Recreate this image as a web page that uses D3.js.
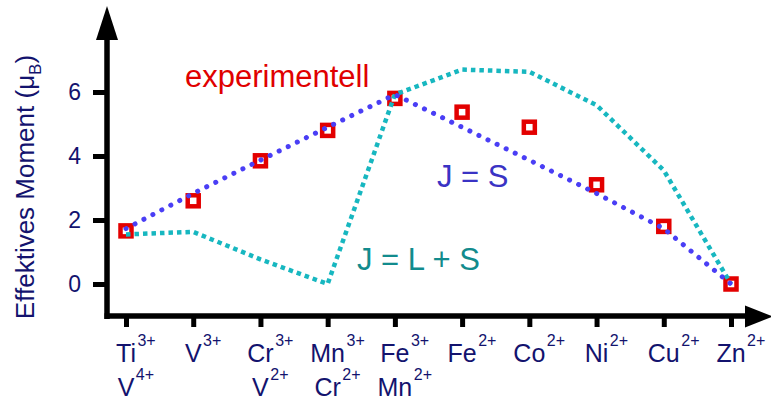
<!DOCTYPE html>
<html>
<head>
<meta charset="utf-8">
<script src="https://cdn.jsdelivr.net/npm/d3@7"></script>
<style>
  body { margin: 0; background: #fff; }
  text { font-family: "Liberation Sans", Arial, sans-serif; }
</style>
</head>
<body>
<div id="chart"></div>
<script>
// ions (main symbol + charge), two rows of labels
var ionTop = ["Ti", "V", "Cr", "Mn", "Fe", "Fe", "Co", "Ni", "Cu", "Zn"];
var chargeTop = ["3+", "3+", "3+", "3+", "3+", "2+", "2+", "2+", "2+", "2+"];
var ionBottom = ["V", "", "V", "Cr", "Mn", "", "", "", "", ""];
var chargeBottom = ["4+", "", "2+", "2+", "2+", "", "", "", "", ""];

// effective moments in Bohr magnetons
var experimental = [1.66, 2.6, 3.85, 4.8, 5.8, 5.37, 4.9, 3.1, 1.8, 0];
var onlySpin = [1.73, 2.83, 3.87, 4.9, 5.92, 4.9, 3.87, 2.83, 1.73, 0];   // J = S
var fullJ = [1.55, 1.63, 0.77, 0, 5.92, 6.7, 6.63, 5.59, 3.55, 0];         // J = L + S
var yTicks = [0, 2, 4, 6];

var width = 771, height = 403;
var navy = "#13136e";

var svg = d3.select("#chart").append("svg")
    .attr("width", width)
    .attr("height", height);

var x = d3.scaleLinear().domain([0, 9]).range([126, 731]);
var y = d3.scaleLinear().domain([-1, 6]).range([316, 92]);

// ticks via d3 axes (domain line replaced by arrows)
var yAxis = svg.append("g")
    .attr("transform", "translate(107,0)")
    .call(d3.axisLeft(y).tickValues(yTicks).tickFormat(d3.format("d")).tickSize(14).tickPadding(12));
yAxis.select(".domain").remove();
yAxis.selectAll(".tick line").attr("stroke", "#000").attr("stroke-width", 5);
yAxis.selectAll(".tick text")
    .attr("fill", navy)
    .style("font-size", "23px")
    .style("font-family", "'Liberation Sans', Arial, sans-serif");

var xAxis = svg.append("g")
    .attr("transform", "translate(0," + y(-1) + ")")
    .call(d3.axisBottom(x).tickValues(d3.range(10)).tickSize(11).tickFormat(""));
xAxis.select(".domain").remove();
xAxis.selectAll(".tick line").attr("stroke", "#000").attr("stroke-width", 5);

// axis lines with arrowheads
svg.append("line")
    .attr("x1", 107).attr("x2", 107)
    .attr("y1", y(-1) + 3).attr("y2", 38)
    .attr("stroke", "#000").attr("stroke-width", 5.5);
svg.append("path")
    .attr("d", "M96,40 L118,40 L107,6 Z")
    .attr("fill", "#000");
svg.append("line")
    .attr("x1", 104.5).attr("x2", 748)
    .attr("y1", y(-1)).attr("y2", y(-1))
    .attr("stroke", "#000").attr("stroke-width", 5.5);
svg.append("path")
    .attr("d", "M745,305.5 L745,327.5 L773,316.5 Z")
    .attr("fill", "#000");

// x labels: main symbol centred on tick, charge as superscript
function ionLabels(names, charges, baseline) {
  names.forEach(function (n, i) {
    if (!n) return;
    var t = svg.append("text")
        .attr("x", x(i))
        .attr("y", baseline)
        .attr("text-anchor", "middle")
        .attr("fill", navy)
        .style("font-size", "25px")
        .text(n);
    var w = t.node().getComputedTextLength();
    svg.append("text")
        .attr("x", x(i) + w / 2 + 1.5)
        .attr("y", baseline - 16)
        .attr("fill", navy)
        .style("font-size", "16px")
        .text(charges[i]);
  });
}
ionLabels(ionTop, chargeTop, 362);
ionLabels(ionBottom, chargeBottom, 396);

// y title
var title = svg.append("text")
    .attr("transform", "translate(33.5,187) rotate(-90)")
    .attr("text-anchor", "middle")
    .attr("fill", navy)
    .style("font-size", "26px");
title.append("tspan").text("Effektives Moment (\u03bc");
title.append("tspan").attr("dy", 7).style("font-size", "17px").text("B");
title.append("tspan").attr("dy", -7).text(")");

// experimental squares
svg.append("g").selectAll("rect")
    .data(experimental)
    .enter().append("rect")
    .attr("x", function (d, i) { return x(i) - 5.5; })
    .attr("y", function (d) { return y(d) - 5.5; })
    .attr("width", 11)
    .attr("height", 11)
    .attr("fill", "#fff")
    .attr("stroke", "#e30000")
    .attr("stroke-width", 4.5);

var line = d3.line()
    .x(function (d, i) { return x(i); })
    .y(function (d) { return y(d); });

// J = L + S (teal, square dots)
svg.append("path")
    .datum(fullJ)
    .attr("d", line)
    .attr("fill", "none")
    .attr("stroke", "#17b7c0")
    .attr("stroke-width", 4.5)
    .attr("stroke-dasharray", "4.5,4");

// J = S (blue, round dots)
svg.append("path")
    .datum(onlySpin)
    .attr("d", line)
    .attr("fill", "none")
    .attr("stroke", "#4a3ef5")
    .attr("stroke-width", 5)
    .attr("stroke-linecap", "round")
    .attr("stroke-dasharray", "0.1,10");

// annotations
svg.append("text")
    .attr("x", 185).attr("y", 87)
    .attr("fill", "#e00000")
    .style("font-size", "31px")
    .text("experimentell");
svg.append("text")
    .attr("x", 437).attr("y", 187)
    .attr("fill", "#3a33c4")
    .style("font-size", "31px")
    .text("J = S");
svg.append("text")
    .attr("x", 357).attr("y", 270)
    .attr("fill", "#128b8d")
    .style("font-size", "31px")
    .text("J = L + S");
</script>
</body>
</html>
